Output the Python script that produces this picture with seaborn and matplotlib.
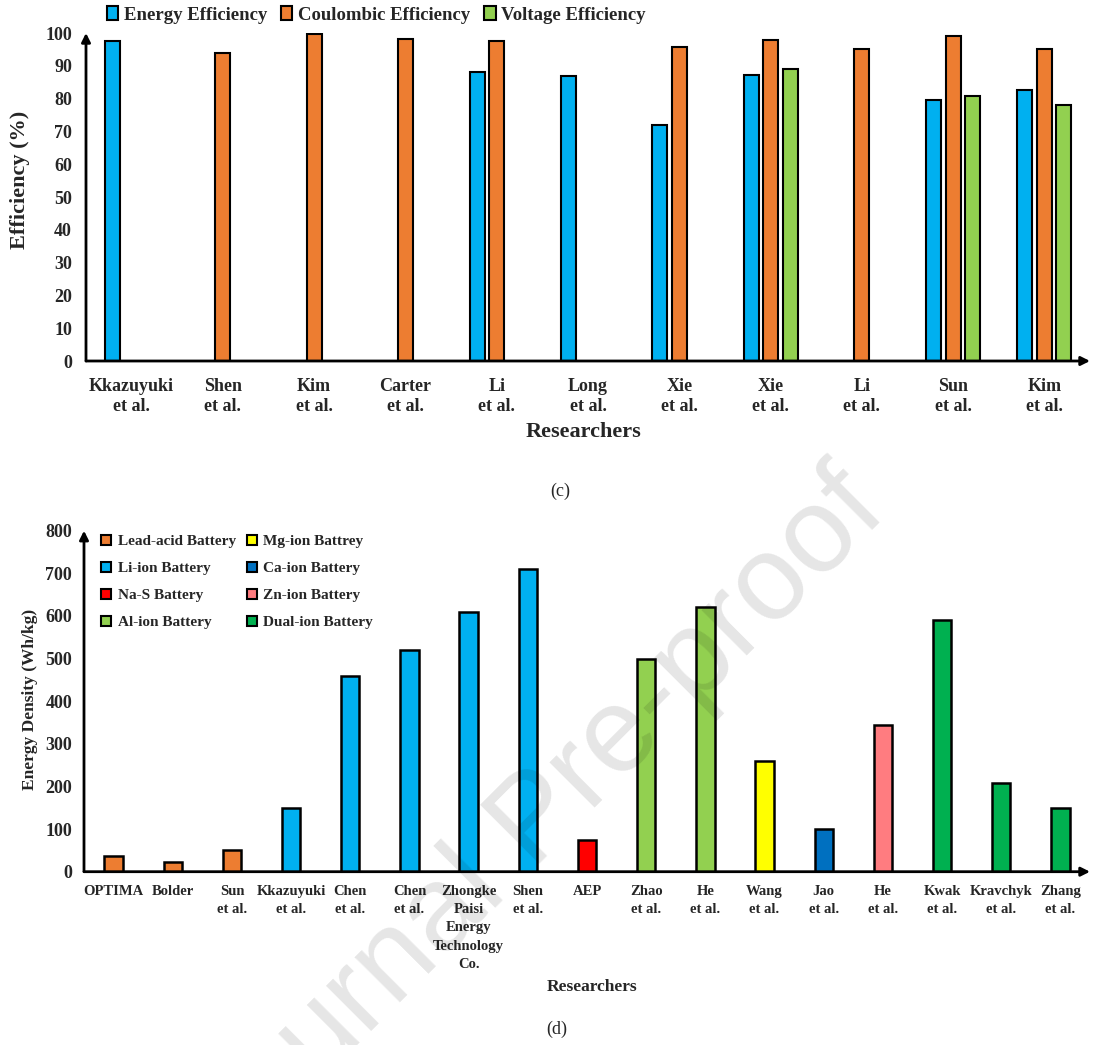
import matplotlib
matplotlib.use("Agg")
import matplotlib.pyplot as plt
from matplotlib.patches import Patch
import seaborn as sns
import pandas as pd
import numpy as np

nan = np.nan

# ---------------- data (c) ----------------
researchers_c = ["Kkazuyuki\net al.", "Shen\net al.", "Kim\net al.", "Carter\net al.",
                 "Li\net al.", "Long\net al.", "Xie\net al.", "Xie\net al.",
                 "Li\net al.", "Sun\net al.", "Kim\net al."]
metrics_c = ["Energy Efficiency", "Coulombic Efficiency", "Voltage Efficiency"]
energy_eff = [97.7, nan, nan, nan, 88.0, 86.8, 72.0, 87.2, nan, 79.6, 82.6]
coulombic_eff = [nan, 93.8, 99.6, 98.3, 97.5, nan, 95.6, 98.0, 95.2, 99.1, 95.0]
voltage_eff = [nan, nan, nan, nan, nan, nan, nan, 88.9, nan, 80.7, 78.0]
yticks_c = list(range(0, 101, 10))

# ---------------- data (d) ----------------
researchers_d = ["OPTIMA", "Bolder", "Sun\net al.", "Kkazuyuki\net al.", "Chen\net al.",
                 "Chen\net al.", "Zhongke\nPaisi\nEnergy\nTechnology\nCo.", "Shen\net al.",
                 "AEP", "Zhao\net al.", "He\net al.", "Wang\net al.", "Jao\net al.",
                 "He\net al.", "Kwak\net al.", "Kravchyk\net al.", "Zhang\net al."]
energy_density = [38, 22, 50, 150, 460, 520, 610, 710, 74, 500, 620, 260, 100, 343, 590, 208, 150]
battery_type = ["Lead-acid Battery", "Lead-acid Battery", "Lead-acid Battery",
                "Li-ion Battery", "Li-ion Battery", "Li-ion Battery", "Li-ion Battery",
                "Li-ion Battery", "Na-S Battery", "Al-ion Battery", "Al-ion Battery",
                "Mg-ion Battrey", "Ca-ion Battery", "Zn-ion Battery", "Dual-ion Battery",
                "Dual-ion Battery", "Dual-ion Battery"]
types_d = ["Lead-acid Battery", "Li-ion Battery", "Na-S Battery", "Al-ion Battery",
           "Mg-ion Battrey", "Ca-ion Battery", "Zn-ion Battery", "Dual-ion Battery"]
yticks_d = list(range(0, 801, 100))

# ---------------- styles ----------------
pal_c = {"Energy Efficiency": "#00B0F0", "Coulombic Efficiency": "#ED7D31",
         "Voltage Efficiency": "#92D050"}
pal_d = {"Lead-acid Battery": "#ED7D31", "Li-ion Battery": "#00B0F0",
         "Na-S Battery": "#FF0000", "Al-ion Battery": "#92D050",
         "Mg-ion Battrey": "#FFFF00", "Ca-ion Battery": "#0070C0",
         "Zn-ion Battery": "#FF7C80", "Dual-ion Battery": "#00B050"}

sns.set_theme(style="white")
plt.rcParams['font.family'] = ['Liberation Serif', 'DejaVu Serif']
plt.rcParams['font.weight'] = 'bold'

W, H = 1093, 1045
fig = plt.figure(figsize=(W / 100, H / 100), dpi=100)


def px_axes(left, right, bottom, top):
    return fig.add_axes([left / W, 1 - bottom / H, (right - left) / W, (bottom - top) / H])


def arrows(ax):
    for sp in ax.spines.values():
        sp.set_visible(False)
    kw = dict(arrowstyle='-|>', color='black', lw=2.0, mutation_scale=13,
              shrinkA=0, shrinkB=0)
    ax.annotate("", xy=(1.0, 0), xytext=(0, 0), xycoords='axes fraction',
                arrowprops=kw, annotation_clip=False)
    ax.annotate("", xy=(0, 1.0), xytext=(0, 0), xycoords='axes fraction',
                arrowprops=kw, annotation_clip=False)


# ---------------- chart (c) ----------------
rows = []
for i in range(len(researchers_c)):
    for m, vals in zip(metrics_c, [energy_eff, coulombic_eff, voltage_eff]):
        if not np.isnan(vals[i]):
            rows.append({"idx": i, "metric": m, "value": vals[i]})
df_c = pd.DataFrame(rows)

ax1 = px_axes(86, 1090, 361, 33)
sns.barplot(data=df_c, x="idx", y="value", hue="metric", hue_order=metrics_c,
            order=list(range(len(researchers_c))), palette=pal_c, saturation=1,
            width=0.64, gap=0.23, edgecolor="black", linewidth=1.5, errorbar=None,
            legend=False, ax=ax1)
ax1.set_xlim(-0.5, len(researchers_c) - 0.5)
ax1.set_ylim(0, 100)
ax1.set_yticks(yticks_c)
ax1.set_yticklabels([str(t) for t in yticks_c], fontsize=13, fontweight='bold')
ax1.set_xticks(range(len(researchers_c)))
ax1.set_xticklabels(researchers_c, fontsize=13, fontweight='bold', linespacing=1.27)
ax1.tick_params(axis='both', length=0)
ax1.tick_params(axis='y', pad=10)
ax1.tick_params(axis='x', pad=12)
ax1.set_xlabel("Researchers", fontsize=16, fontweight='bold', va='center')
ax1.xaxis.set_label_coords(0.496, -0.215)
ax1.set_ylabel("Efficiency (%)", fontsize=16, fontweight='bold', va='center')
ax1.yaxis.set_label_coords(-0.066, 0.552)
arrows(ax1)

handles_c = [Patch(facecolor=pal_c[m], edgecolor='black', linewidth=1.5) for m in metrics_c]
fig.legend(handles_c, metrics_c, loc='center left', bbox_to_anchor=(107 / W, 1 - 15 / H),
           ncol=3, frameon=False, handlelength=0.6, handleheight=0.7,
           handletextpad=0.3, columnspacing=0.75, borderpad=0, borderaxespad=0,
           prop={'weight': 'bold', 'size': 13.5})

fig.text(560 / W, 1 - 491 / H, "(c)", fontsize=13, fontweight='normal', ha='center', va='center')

# ---------------- chart (d) ----------------
df_d = pd.DataFrame({"idx": list(range(len(researchers_d))), "value": energy_density,
                     "type": battery_type})
ax2 = px_axes(84, 1090, 871.7, 530.7)
sns.barplot(data=df_d, x="idx", y="value", hue="type", hue_order=types_d,
            order=list(range(len(researchers_d))), palette=pal_d, saturation=1,
            dodge=False, width=0.31, edgecolor="black", linewidth=1.8, errorbar=None,
            legend=False, ax=ax2)
ax2.set_xlim(-0.5, len(researchers_d) - 0.5)
ax2.set_ylim(0, 800)
ax2.set_yticks(yticks_d)
ax2.set_yticklabels([str(t) for t in yticks_d], fontsize=13, fontweight='bold')
ax2.set_xticks(range(len(researchers_d)))
ax2.set_xticklabels(researchers_d, fontsize=10.5, fontweight='bold', linespacing=1.52)
ax2.tick_params(axis='both', length=0)
ax2.tick_params(axis='y', pad=8.5)
ax2.tick_params(axis='x', pad=9.6)
ax2.set_xlabel("Researchers", fontsize=12.5, fontweight='bold', va='center')
ax2.xaxis.set_label_coords(0.505, -0.338)
ax2.set_ylabel("Energy Density (Wh/kg)", fontsize=12.5, fontweight='bold', va='center')
ax2.yaxis.set_label_coords(-0.0537, 0.506)
arrows(ax2)

handles_d = [Patch(facecolor=pal_d[t], edgecolor='black', linewidth=1.5) for t in types_d]
fig.legend(handles_d, types_d, loc='upper left', bbox_to_anchor=(101 / W, 1 - 535 / H),
           ncol=2, frameon=False, handlelength=0.65, handleheight=0.65,
           handletextpad=0.45, columnspacing=0.7, labelspacing=0.88, borderpad=0,
           borderaxespad=0, prop={'weight': 'bold', 'size': 11})

fig.text(557 / W, 1 - 1029 / H, "(d)", fontsize=13, fontweight='normal', ha='center', va='center')

# watermark
fig.text(537 / W, 1 - 822 / H, "Journal Pre-proof", fontsize=87, color='black', alpha=0.1,
         rotation=45, rotation_mode='anchor', ha='center', va='center',
         family=['Liberation Sans', 'DejaVu Sans'], fontweight='normal', zorder=10)

fig.savefig("out.png", dpi=100)
